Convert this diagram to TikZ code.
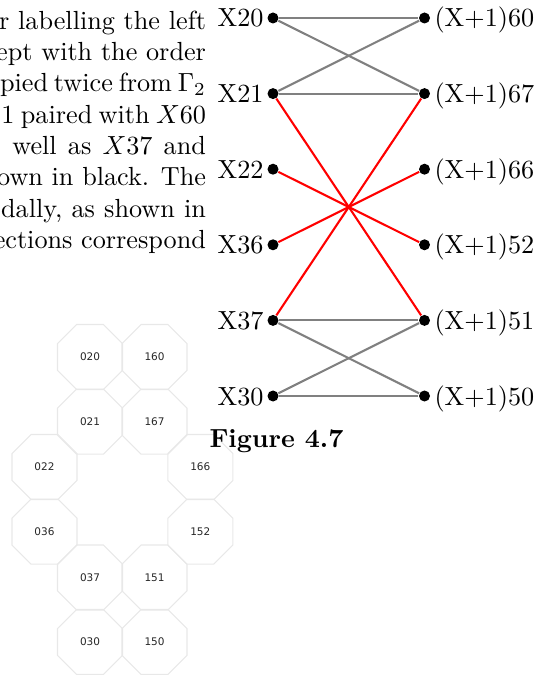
\documentclass[tikz,border=0pt]{standalone}
\usepackage{fontspec}
\newfontfamily\octfont{DejaVu Sans}
\usetikzlibrary{shapes.geometric}
\begin{document}
\begin{tikzpicture}[x=0.3817pt,y=-0.3817pt,
  dot/.style={circle,fill=black,inner sep=0pt,minimum size=4.2pt},
  gedge/.style={draw=gray,line width=0.8pt},
  redge/.style={draw=red,line width=0.8pt},
  oct/.style={regular polygon,regular polygon sides=8,minimum size=26.86pt,inner sep=0pt,
    draw=black!9,line width=0.4pt,font=\octfont\fontsize{4}{5}\selectfont,text=black!85},
  para/.style={anchor=base east,inner sep=0pt},
  llab/.style={anchor=base east,inner sep=0pt},
  rlab/.style={anchor=base west,inner sep=0pt}]
\useasboundingbox (0,0) rectangle (542,675);
\clip (0,0) rectangle (542,675);
% paragraph (visible part of the lines)
\node[para] (p1) at (206.5,29.3) {r labelling the left};
\node[para] (p2) at (206.5,60.6) {ept with the order};
\node[para] (p3) at (206.5,91.9) {\makebox[78.6pt][s]{pied twice from $\Gamma_2$}};
\node[para] (p4) at (206.5,123.2) {\makebox[78.06pt][s]{1 paired with $X60$}};
\node[para] (p5) at (206.5,154.5) {\makebox[73.9pt][s]{well as $X37$ and}};
\node[para] (p6) at (206.5,185.8) {own in black. The};
\node[para] (p7) at (206.5,217.1) {\makebox[78.2pt][s]{dally, as shown in}};
\node[para] (p8) at (206.5,248.4) {ections correspond};
% octagons
\node[oct] (o020) at (90,357) {020};
\node[oct] (o160) at (154.5,357) {160};
\node[oct] (o021) at (90,421.7) {021};
\node[oct] (o167) at (154.5,421.7) {167};
\node[oct] (o022) at (44.5,467) {022};
\node[oct] (o166) at (200.3,467) {166};
\node[oct] (o036) at (44.5,531.7) {036};
\node[oct] (o152) at (200.3,531.7) {152};
\node[oct] (o037) at (90,577.5) {037};
\node[oct] (o151) at (154.5,577.5) {151};
\node[oct] (o030) at (90,642) {030};
\node[oct] (o150) at (154.5,642) {150};
% dots
\node[dot] (X20) at (273,18) {};
\node[dot] (X21) at (273,93.6) {};
\node[dot] (X22) at (273,169.2) {};
\node[dot] (X36) at (273,244.8) {};
\node[dot] (X37) at (273,320.4) {};
\node[dot] (X30) at (273,396) {};
\node[dot] (P60) at (424.5,18) {};
\node[dot] (P67) at (424.5,93.6) {};
\node[dot] (P66) at (424.5,169.2) {};
\node[dot] (P52) at (424.5,244.8) {};
\node[dot] (P51) at (424.5,320.4) {};
\node[dot] (P50) at (424.5,396) {};
% labels
\node[llab] (lX20) at (264,27) {X20};
\node[llab] (lX21) at (264,102.6) {X21};
\node[llab] (lX22) at (264,178.2) {X22};
\node[llab] (lX36) at (264,253.8) {X36};
\node[llab] (lX37) at (264,329.4) {X37};
\node[llab] (lX30) at (264,405) {X30};
\node[rlab] (lP60) at (434,27) {(X+1)60};
\node[rlab] (lP67) at (434,102.6) {(X+1)67};
\node[rlab] (lP66) at (434,178.2) {(X+1)66};
\node[rlab] (lP52) at (434,253.8) {(X+1)52};
\node[rlab] (lP51) at (434,329.4) {(X+1)51};
\node[rlab] (lP50) at (434,405) {(X+1)50};
% edges
\draw[gedge] (X20) -- (P60);
\draw[gedge] (X20) -- (P67);
\draw[gedge] (X21) -- (P60);
\draw[gedge] (X21) -- (P67);
\draw[gedge] (X37) -- (P51);
\draw[gedge] (X37) -- (P50);
\draw[gedge] (X30) -- (P51);
\draw[gedge] (X30) -- (P50);
\draw[redge] (X21) -- (P51);
\draw[redge] (X22) -- (P52);
\draw[redge] (X36) -- (P66);
\draw[redge] (X37) -- (P67);
% caption
\node[anchor=base west,inner sep=0pt] (cap) at (209,447.3) {\bfseries Figure 4.7};
\end{tikzpicture}
\end{document}
